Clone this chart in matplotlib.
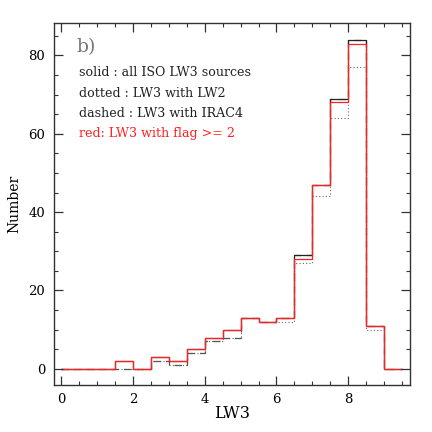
import numpy as np
import matplotlib
matplotlib.use("Agg")
import matplotlib.pyplot as plt
from matplotlib.ticker import MultipleLocator

# LW3 histogram, bins of 0.5 from 0 to 9.5
edges = np.arange(0, 9.51, 0.5)
n_all = [0, 0, 0, 2, 0, 3, 2, 5, 8, 10, 13, 12, 13, 29, 47, 69, 84, 11, 0]
n_lw2 = [0, 0, 0, 0, 0, 2, 1, 4, 7, 8, 13, 12, 12, 27, 44, 64, 77, 10, 0]
n_irac4 = [0, 0, 0, 0, 0, 2, 1, 4, 7, 8, 13, 12, 13, 29, 47, 69, 84, 11, 0]
n_flag = [0, 0, 0, 2, 0, 3, 2, 5, 8, 10, 13, 12, 13, 28, 47, 68, 83, 11, 0]

legend_lines = ["solid : all ISO LW3 sources",
                "dotted : LW3 with LW2",
                "dashed : LW3 with IRAC4"]
legend_red = "red: LW3 with flag >= 2"

plt.rcParams['font.family'] = ['DejaVu Serif']

fig = plt.figure(figsize=(4.32, 4.32), dpi=100)
ax = fig.add_axes([0.124, 0.109, 0.825, 0.838])

ax.stairs(n_lw2, edges, color='#666666', linestyle=(0, (1, 2)), linewidth=0.8, baseline=None)
ax.stairs(n_irac4, edges, color='#555555', linestyle=(0, (6, 4)), linewidth=0.9, baseline=None)
ax.stairs(n_all, edges, color='#222222', linewidth=0.9, baseline=None)
ax.stairs(n_flag, edges, color='#ff2020', linewidth=0.9, baseline=None)

ax.set_xlim(-0.21, 9.72)
ax.set_ylim(-4.1, 88.3)

ax.xaxis.set_major_locator(MultipleLocator(2))
ax.xaxis.set_minor_locator(MultipleLocator(0.5))
ax.yaxis.set_major_locator(MultipleLocator(20))
ax.yaxis.set_minor_locator(MultipleLocator(5))
ax.tick_params(which='both', direction='in', top=True, right=True, labelsize=9.5, color='#333333')
ax.tick_params(which='major', length=6.5, width=0.9, pad=6)
ax.tick_params(which='minor', length=3, width=0.8)
for s in ax.spines.values():
    s.set_color('#333333')
    s.set_linewidth(1.0)

ax.set_xlabel("LW3", fontsize=11.5, labelpad=-1)
ax.set_ylabel("Number", fontsize=10, labelpad=5)

ax.text(0.065, 0.92, "b)", transform=ax.transAxes, fontsize=13.5, color='#777777', fontweight='light')
for i, line in enumerate(legend_lines):
    ax.text(0.072, 0.852 - i * 0.0555, line, transform=ax.transAxes, fontsize=9.1, color='#222222')
ax.text(0.072, 0.852 - 3 * 0.0555, legend_red, transform=ax.transAxes, fontsize=9.1, color='#ff2020')

fig.savefig("out.png", dpi=100)
